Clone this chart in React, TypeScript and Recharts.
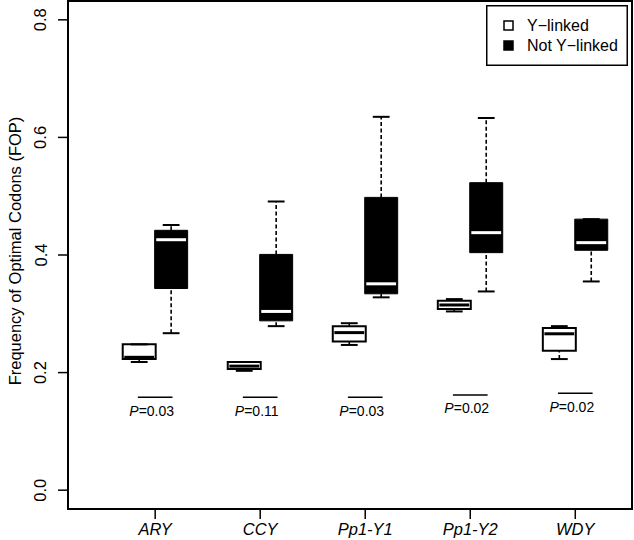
import {
  ComposedChart,
  Legend,
  ReferenceArea,
  ReferenceLine,
  Scatter,
  XAxis,
  YAxis,
} from "recharts";

const FONT = "'Liberation Sans', Arial, Helvetica, sans-serif";

// genes along the x axis (tick i + 1)
const genes = ["ARY", "CCY", "Pp1-Y1", "Pp1-Y2", "WDY"];

// box stats per gene: [lower whisker, Q1, median, Q3, upper whisker]
const yLinked = [
  [0.218, 0.223, 0.226, 0.248, 0.248],
  [0.203, 0.206, 0.211, 0.218, 0.218],
  [0.247, 0.253, 0.268, 0.279, 0.284],
  [0.304, 0.308, 0.315, 0.322, 0.325],
  [0.223, 0.237, 0.266, 0.276, 0.279],
];
const notYLinked = [
  [0.267, 0.343, 0.426, 0.442, 0.451],
  [0.279, 0.288, 0.304, 0.401, 0.491],
  [0.328, 0.334, 0.351, 0.498, 0.635],
  [0.338, 0.404, 0.438, 0.523, 0.633],
  [0.355, 0.408, 0.421, 0.461, 0.461],
];

const pValues = ["0.03", "0.11", "0.03", "0.02", "0.02"];
const pLineLevel = [0.158, 0.158, 0.158, 0.162, 0.165];

const yTicks = [0, 0.2, 0.4, 0.6, 0.8];
const xTicks = [1, 2, 3, 4, 5];

// R-style 4% padding around the data range
const X_DOMAIN: [number, number] = [0.17, 5.54];
const Y_DOMAIN: [number, number] = [-0.032, 0.832];

// box geometry, in x-axis units
const OFFSET = 0.152;
const HALF_W = 0.157;
const CAP_HALF = 0.08;
const MED_INSET = 0.015;
const P_HALF = 0.165;

const pRows = genes.map((g, i) => ({ pos: i + 1, level: pLineLevel[i], p: pValues[i] }));

function boxElements(stats: number[], center: number, filled: boolean, key: string) {
  const [lo, q1, med, q3, hi] = stats;
  const els = [];
  const seg = (xa: number, ya: number, xb: number, yb: number) => [
    { x: xa, y: ya },
    { x: xb, y: yb },
  ];
  if (hi > q3)
    els.push(
      <ReferenceLine
        key={key + "wu"}
        segment={seg(center, q3, center, hi)}
        stroke="#000"
        strokeWidth={1.6}
        strokeDasharray="4 2.5"
      />
    );
  if (lo < q1)
    els.push(
      <ReferenceLine
        key={key + "wl"}
        segment={seg(center, lo, center, q1)}
        stroke="#000"
        strokeWidth={1.6}
        strokeDasharray="4 2.5"
      />
    );
  els.push(
    <ReferenceLine
      key={key + "cu"}
      segment={seg(center - CAP_HALF, hi, center + CAP_HALF, hi)}
      stroke="#000"
      strokeWidth={2}
    />,
    <ReferenceLine
      key={key + "cl"}
      segment={seg(center - CAP_HALF, lo, center + CAP_HALF, lo)}
      stroke="#000"
      strokeWidth={2}
    />,
    <ReferenceArea
      key={key + "box"}
      x1={center - HALF_W}
      x2={center + HALF_W}
      y1={q1}
      y2={q3}
      fill={filled ? "#000" : "#fff"}
      fillOpacity={1}
      stroke="#000"
      strokeWidth={filled ? 1 : 2}
    />,
    <ReferenceLine
      key={key + "med"}
      segment={seg(center - HALF_W + MED_INSET, med, center + HALF_W - MED_INSET, med)}
      stroke={filled ? "#fff" : "#000"}
      strokeWidth={3}
    />
  );
  return els;
}

// P-value text sits just under the short line at each gene
function PText(props: any) {
  const { cx, cy, payload } = props;
  if (cx == null || cy == null) return null;
  return (
    <text
      x={cx - 3.5}
      y={cy + 18.4}
      textAnchor="middle"
      fontSize={14}
      fontFamily={FONT}
      fill="#000"
    >
      <tspan fontStyle="italic">P</tspan>={payload.p}
    </text>
  );
}

function YTick({ x, y, payload }: any) {
  const bx = x - 9.5;
  return (
    <text
      x={bx}
      y={y}
      transform={`rotate(-90, ${bx}, ${y})`}
      textAnchor="middle"
      fontSize={16.5}
      fontFamily={FONT}
      fill="#000"
    >
      {payload.value.toFixed(1)}
    </text>
  );
}

function YTitle(props: any) {
  const vb = props.viewBox;
  const x = vb.x + 21;
  const y = vb.y + vb.height / 2 - 4;
  return (
    <text
      x={x}
      y={y}
      transform={`rotate(-90, ${x}, ${y})`}
      textAnchor="middle"
      fontSize={16.5}
      fontFamily={FONT}
      fill="#000"
    >
      Frequency of Optimal Codons (FOP)
    </text>
  );
}

function LegendBox() {
  return (
    <svg width={142} height={61} style={{ display: "block" }}>
      <rect x={0.75} y={0.75} width={140.5} height={59.5} fill="#fff" stroke="#000" strokeWidth={1.5} />
      <rect x={18} y={16} width={9} height={9} fill="#fff" stroke="#000" strokeWidth={1.5} />
      <rect x={17.25} y={35.25} width={10.5} height={10.5} fill="#000" />
      <text x={41} y={26} fontSize={16} fontFamily={FONT} fill="#000">
        Y−linked
      </text>
      <text x={41} y={46} fontSize={16} fontFamily={FONT} fill="#000">
        Not Y−linked
      </text>
    </svg>
  );
}

export default function App() {
  return (
    <div style={{ position: "absolute", left: 0, top: 0, width: 634, height: 540, background: "#fff" }}>
      <ComposedChart
        width={634}
        height={540}
        data={pRows}
        margin={{ top: 1, right: 2, bottom: 0, left: 0 }}
      >
        <XAxis
          type="number"
          dataKey="pos"
          domain={X_DOMAIN}
          ticks={xTicks}
          allowDataOverflow
          height={31}
          tickSize={10}
          tickMargin={4}
          axisLine={false}
          tickLine={{ stroke: "#000", strokeWidth: 1.5 }}
          tickFormatter={(v: number) => genes[v - 1]}
          tick={{ fill: "#000", fontSize: 16.5, fontStyle: "italic", fontFamily: FONT }}
          interval={0}
        />
        <YAxis
          type="number"
          domain={Y_DOMAIN}
          ticks={yTicks}
          allowDataOverflow
          width={68}
          tickSize={10}
          axisLine={false}
          tickLine={{ stroke: "#000", strokeWidth: 1.5 }}
          tick={<YTick />}
          interval={0}
          label={{ content: <YTitle /> }}
        />
        <ReferenceArea
          x1={X_DOMAIN[0]}
          x2={X_DOMAIN[1]}
          y1={Y_DOMAIN[0]}
          y2={Y_DOMAIN[1]}
          fill="none"
          stroke="#000"
          strokeWidth={2}
        />
        {genes.map((g, i) =>
          boxElements(yLinked[i], i + 1 - OFFSET, false, g + "-y")
        )}
        {genes.map((g, i) =>
          boxElements(notYLinked[i], i + 1 + OFFSET, true, g + "-n")
        )}
        {genes.map((g, i) => (
          <ReferenceLine
            key={g + "-p"}
            segment={[
              { x: i + 1 - P_HALF, y: pLineLevel[i] },
              { x: i + 1 + P_HALF, y: pLineLevel[i] },
            ]}
            stroke="#000"
            strokeWidth={1.5}
          />
        ))}
        <Scatter dataKey="level" shape={<PText />} isAnimationActive={false} />
        <Legend
          layout="vertical"
          align="center"
          verticalAlign="middle"
          wrapperStyle={{ left: 486, top: 5, width: 142, height: 61 }}
          content={() => <LegendBox />}
        />
      </ComposedChart>
    </div>
  );
}
